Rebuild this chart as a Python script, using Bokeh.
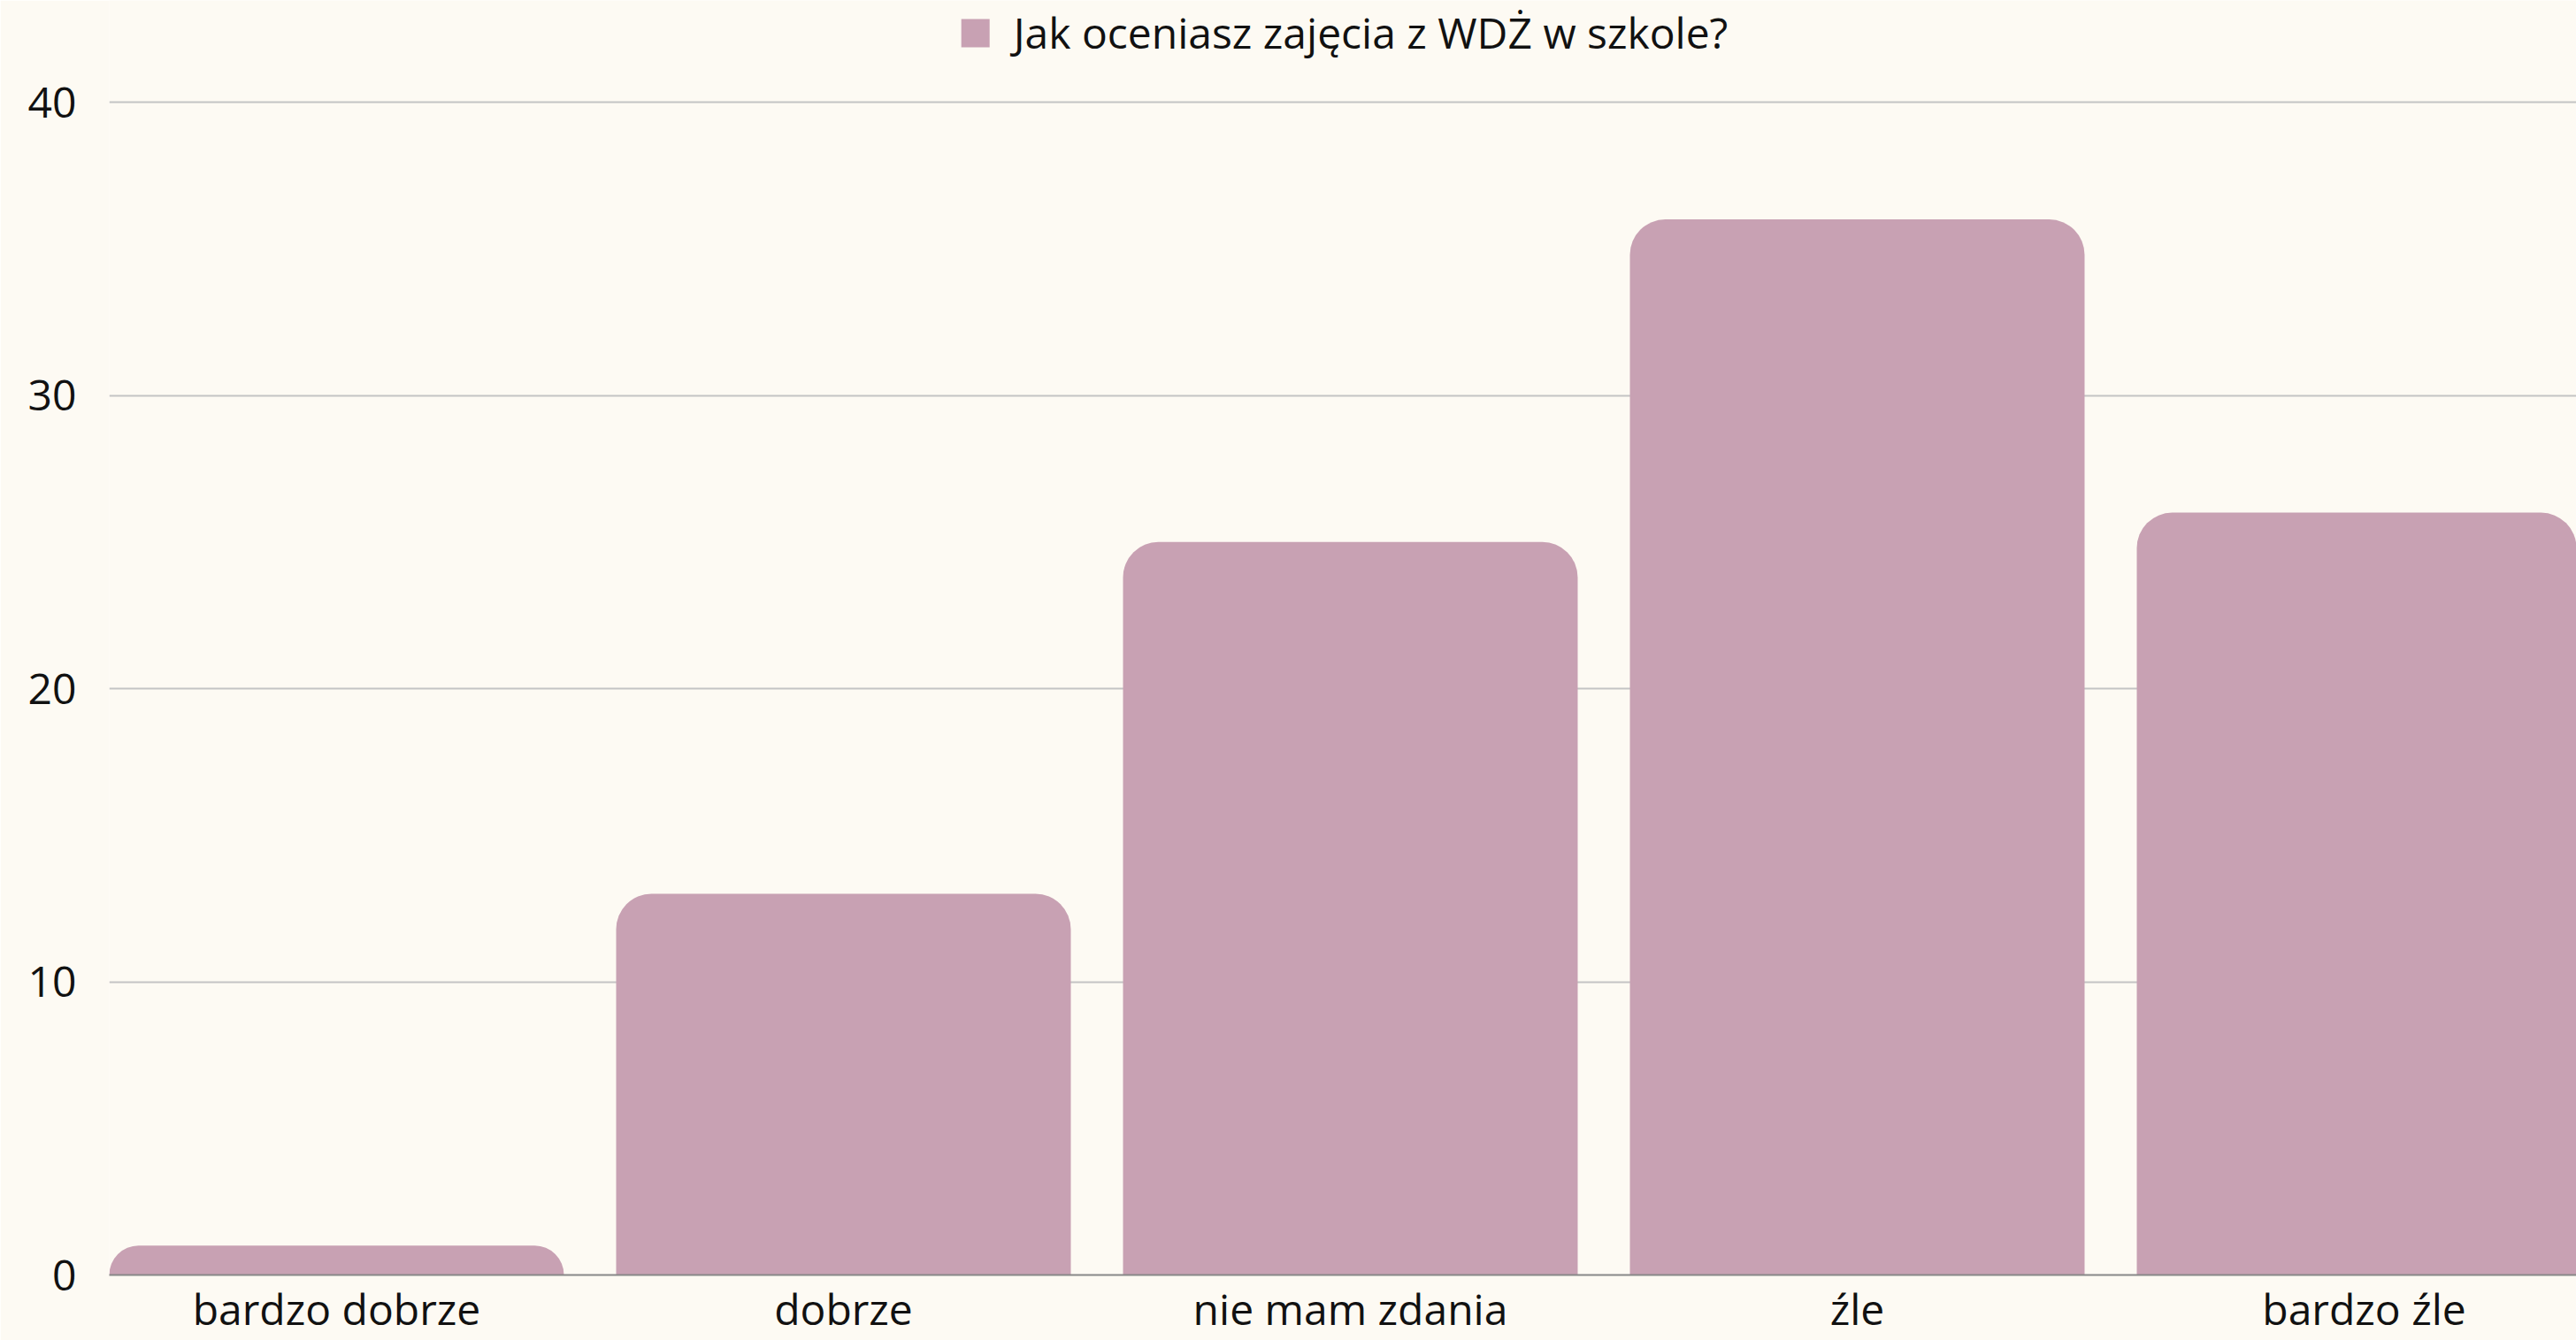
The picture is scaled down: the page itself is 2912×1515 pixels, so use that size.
from bokeh.plotting import figure
from bokeh.models import Legend, LegendItem, FixedTicker, Range1d, ColumnDataSource
from bokeh.embed import file_html
from bokeh.resources import INLINE

categories = ["bardzo dobrze", "dobrze", "nie mam zdania", "źle", "bardzo źle"]
values = [1, 13, 25, 36, 26]
series_name = "Jak oceniasz zajęcia z WDŻ w szkole?"
y_ticks = [0, 10, 20, 30, 40]
y_max = 40

BG = "#FDFAF3"
BAR = "#C8A1B3"
FONT = "Open Sans"

xs = list(range(len(categories)))
src = ColumnDataSource(dict(x=xs, top=values))

W, H = 2912, 1515
LEFT, BOTTOM = 123, 74
TOP_GRID = 115  # pixel row of the top gridline
bar_w = 0.897
px_per_unit = 573
frame_w = W - LEFT
frame_h = H - BOTTOM

p = figure(width=W, height=H, output_backend="svg", toolbar_location=None,
           x_range=Range1d(-bar_w / 2, -bar_w / 2 + frame_w / px_per_unit),
           y_range=Range1d(0, y_max * frame_h / (frame_h - TOP_GRID)),
           min_border_left=LEFT, min_border_right=0, min_border_top=0, min_border_bottom=BOTTOM)
p.background_fill_color = BG
p.border_fill_color = BG
p.outline_line_color = None

r = p.vbar(x="x", top="top", width=bar_w, source=src, fill_color=BAR, line_color=None,
           border_radius=(40, 40, 0, 0))

p.xgrid.grid_line_color = None
p.ygrid.grid_line_color = "#C4C4C4"
p.ygrid.grid_line_width = 2

p.yaxis.ticker = FixedTicker(ticks=y_ticks)
p.yaxis.axis_line_color = None
p.yaxis.major_tick_line_color = None
p.yaxis.minor_tick_line_color = None
p.yaxis.major_label_standoff = 31
p.yaxis.major_label_text_font = FONT
p.yaxis.major_label_text_font_size = "48px"
p.yaxis.major_label_text_color = "#111111"

p.xaxis.ticker = FixedTicker(ticks=xs)
p.xaxis.major_label_overrides = {i: c for i, c in zip(xs, categories)}
p.xaxis.axis_line_color = "#888888"
p.xaxis.axis_line_width = 2
p.xaxis.major_tick_line_color = None
p.xaxis.minor_tick_line_color = None
p.xaxis.major_label_standoff = -1
p.xaxis.major_label_text_font = FONT
p.xaxis.major_label_text_font_size = "48px"
p.xaxis.major_label_text_color = "#111111"

legend = Legend(items=[LegendItem(label=series_name, renderers=[r])],
                orientation="horizontal", location="top",
                glyph_width=40, glyph_height=40,
                label_text_font=FONT, label_text_font_size="48px", label_text_color="#111111",
                background_fill_alpha=0, border_line_color=None,
                padding=0, margin=4, spacing=0, label_standoff=24)
p.add_layout(legend, "center")

open("out.html", "w").write(file_html(p, INLINE))
